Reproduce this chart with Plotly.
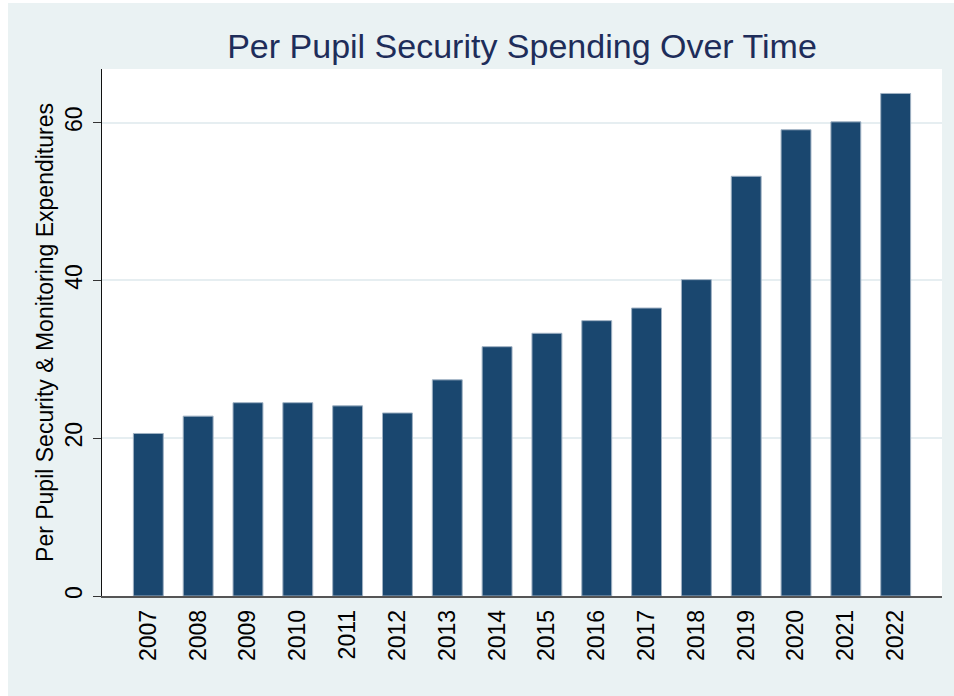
import plotly.graph_objects as go

years = ["2007", "2008", "2009", "2010", "2011", "2012", "2013", "2014",
         "2015", "2016", "2017", "2018", "2019", "2020", "2021", "2022"]
spending = [20.6, 22.8, 24.5, 24.5, 24.1, 23.2, 27.4, 31.6,
            33.3, 34.9, 36.5, 40.1, 53.2, 59.1, 60.1, 63.7]
y_ticks = [0, 20, 40, 60]

title_text = "Per Pupil Security Spending Over Time"
y_title = "Per Pupil Security & Monitoring Expenditures"

W, H = 954, 696
L, R, T, B = 102, 12, 69, 100
pw = W - L - R
ph = H - T - B

fig = go.Figure(go.Bar(
    x=years, y=spending,
    marker=dict(color="#1A476F", line=dict(color="#9fb1c3", width=1)),
))

fig.update_layout(
    width=W, height=H,
    margin=dict(l=L, r=R, t=T, b=B),
    paper_bgcolor="#EAF2F3",
    plot_bgcolor="#FFFFFF",
    bargap=0.4,
    showlegend=False,
    font=dict(family="Liberation Sans, Arial, sans-serif", color="#000000"),
    title=dict(text=title_text, x=0.5, xref="paper", xanchor="center",
               y=1 - 46 / H, yanchor="middle",
               font=dict(size=34, color="#1E2D5A")),
    xaxis=dict(
        type="category",
        range=[-0.93, 15.93],
        tickangle=-90,
        tickfont=dict(size=23),
        ticks="",
        ticklabelstandoff=3,
        showline=True, linecolor="#555555", linewidth=1.5,
        showgrid=False,
        fixedrange=True,
    ),
    yaxis=dict(
        range=[0, 66.8],
        tickvals=y_ticks,
        tickangle=-90,
        tickfont=dict(size=23),
        ticks="outside", ticklen=8, tickcolor="#333333", tickwidth=1,
        ticklabelstandoff=2,
        showline=True, linecolor="#111111", linewidth=1.2,
        showgrid=True, gridcolor="#E6EEF1", gridwidth=1.5,
        zeroline=False,
        fixedrange=True,
        title=dict(text=y_title, font=dict(size=23), standoff=0),
    ),
    shapes=[
        dict(type="rect", xref="paper", yref="paper",
             x0=-L / pw - 0.02, x1=(8 - L) / pw,
             y0=-0.5, y1=1.5, fillcolor="#FFFFFF", line=dict(width=0)),
        dict(type="rect", xref="paper", yref="paper",
             x0=-0.5, x1=1.5,
             y0=1 + (T - 3) / ph, y1=1.5, fillcolor="#FFFFFF", line=dict(width=0)),
    ],
)

fig.write_html("out.html", config={"displayModeBar": False},
               post_script="document.body.style.margin='0';"
                           "document.body.style.overflow='hidden';")
